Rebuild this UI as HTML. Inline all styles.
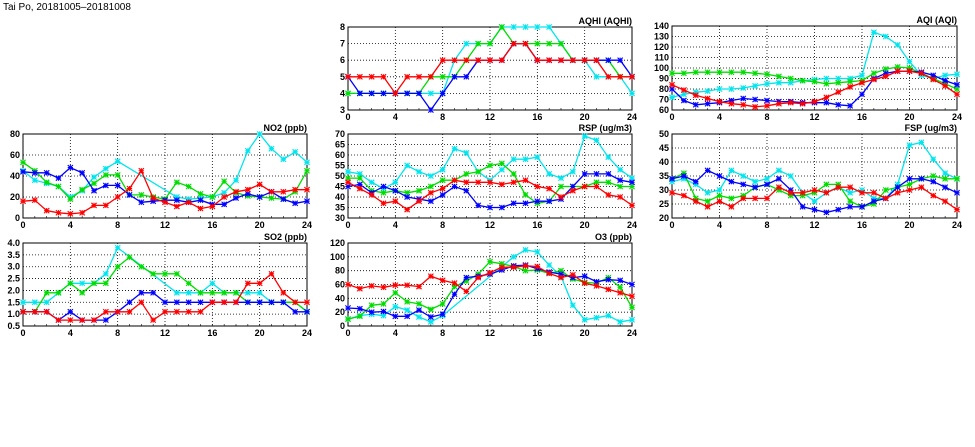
<!DOCTYPE html>
<html><head><meta charset="utf-8"><style>
html,body{margin:0;padding:0;background:#fff;}
svg{display:block;font-family:"Liberation Sans",sans-serif;}
</style></head><body>
<svg id="chart" width="975" height="447" viewBox="0 0 975 447">
<text x="3" y="10" font-size="10" fill="#000">Tai Po, 20181005–20181008</text>
</svg>
<script>
const hours = [0,1,2,3,4,5,6,7,8,9,10,11,12,13,14,15,16,17,18,19,20,21,22,23,24];
const seriesColors = ['#00e5ee','#00dd00','#0000ff','#ff0000'];
const seriesNames = ['day-cyan','day-green','day-blue','day-red'];
const xTicks = [0,4,8,12,16,20,24];

const aqhiCyan  = [4,4,4,4,4,4,4,4,4,6,7,7,7,8,8,8,8,8,7,6,6,5,5,5,4];
const aqhiGreen = [4,4,4,4,4,4,4,5,5,5,6,7,7,8,7,7,7,7,7,6,6,6,6,5,5];
const aqhiBlue  = [5,4,4,4,4,4,4,3,4,5,5,6,6,6,7,7,6,6,6,6,6,6,6,6,5];
const aqhiRed   = [5,5,5,5,4,5,5,5,6,6,6,6,6,6,7,7,6,6,6,6,6,6,5,5,5];
const aqhiTicks = [3,4,5,6,7,8];

const aqiCyan  = [72,75,77,78,80,80,81,83,85,86,86,88,89,90,90,90,93,134,130,122,106,93,90,93,94];
const aqiGreen = [95,95,96,96,96,96,96,95,94,92,90,88,87,85,86,87,88,95,99,101,100,95,90,85,80];
const aqiBlue  = [80,69,65,66,67,69,71,70,69,68,68,67,67,67,65,64,75,90,95,97,97,96,93,88,84];
const aqiRed   = [84,79,74,71,68,66,65,63,64,66,67,66,68,72,77,82,86,89,92,97,97,95,89,83,75];
const aqiTicks = [60,70,80,90,100,110,120,130,140];

const no2Cyan  = [45,36,33,30,20,26,39,47,54,null,null,null,null,20,18,19,20,24,36,64,80,66,56,63,53];
const no2Green = [53,45,34,30,18,27,33,41,41,22,22,20,18,34,30,23,20,35,24,21,20,19,18,25,45];
const no2Blue  = [44,43,43,38,48,43,26,31,31,22,15,16,17,17,15,17,13,13,19,23,20,25,18,14,16];
const no2Red   = [16,17,7,5,4,5,12,12,20,28,45,19,15,11,15,9,11,20,25,27,32,25,25,27,27];
const no2Ticks = [0,20,40,60,80];

const rspCyan  = [52,51,47,44,47,55,52,50,53,63,61,52,48,53,58,58,59,51,49,52,69,67,59,53,49];
const rspGreen = [49,49,43,42,43,42,43,45,48,48,51,52,55,56,51,41,37,38,45,45,45,47,47,45,45];
const rspBlue  = [45,46,42,45,43,40,39,38,41,45,43,36,35,35,37,37,38,38,39,45,51,51,51,48,47];
const rspRed   = [47,44,41,37,38,34,38,42,44,48,47,47,47,46,47,48,45,44,40,43,45,45,41,40,36];
const rspTicks = [30,35,40,45,50,55,60,65,70];

const fspCyan  = [33,34,32,29,30,37,35,33,34,37,35,29,26,29,31,29,30,27,27,32,46,47,41,36,34];
const fspGreen = [34,36,27,26,28,27,28,31,32,30,28,28,29,32,32,26,24,25,30,31,32,34,35,34,34];
const fspBlue  = [34,35,33,37,35,33,32,31,32,34,30,24,23,22,23,24,24,26,27,31,34,34,33,31,29];
const fspRed   = [29,28,26,24,26,24,27,27,27,31,29,29,30,29,31,31,29,29,27,29,30,31,28,26,23];
const fspTicks = [20,25,30,35,40,45,50];

const so2Cyan  = [1.5,1.5,1.5,1.9,2.3,2.3,2.3,2.7,3.8,null,null,null,null,1.9,1.9,1.9,2.3,1.9,1.9,1.9,1.9,1.5,1.5,1.5,1.1];
const so2Green = [1.1,1.1,1.9,1.9,2.3,1.9,2.3,2.3,3.0,3.4,3.0,2.7,2.7,2.7,2.3,1.9,1.9,1.9,1.9,1.5,1.5,1.5,1.5,1.5,1.1];
const so2Blue  = [1.1,1.1,1.1,0.75,1.1,0.75,0.75,0.75,1.1,1.5,1.9,1.9,1.5,1.5,1.5,1.5,1.5,1.5,1.5,1.5,1.5,1.5,1.5,1.1,1.1];
const so2Red   = [1.1,1.1,1.1,0.75,0.75,0.75,0.75,1.1,1.1,1.1,1.5,0.75,1.1,1.1,1.1,1.1,1.5,1.5,1.5,2.3,2.3,2.7,1.9,1.5,1.5];
const so2Ticks = [0.5,1.0,1.5,2.0,2.5,3.0,3.5,4.0];

const o3Cyan  = [10,15,17,15,28,23,13,6,15,null,null,null,null,null,100,110,107,88,72,30,9,12,15,6,9];
const o3Green = [10,14,30,32,48,35,32,24,32,57,65,75,93,90,86,80,81,76,80,68,63,62,70,56,27];
const o3Blue  = [26,25,20,21,14,14,23,13,17,46,70,72,75,81,87,88,83,78,75,70,72,64,67,66,60];
const o3Red   = [60,54,58,56,59,59,57,72,66,62,50,70,77,85,85,87,86,76,70,74,62,58,53,48,43];
const o3Ticks = [0,20,40,60,80,100,120];

const svg = document.getElementById('chart');
const NS = 'http://www.w3.org/2000/svg';
function mk(tag, attrs, parent){ const e=document.createElementNS(NS,tag); for(const k in attrs) e.setAttribute(k,attrs[k]); (parent||svg).appendChild(e); return e; }

function panel(id, title, box, ticks, dec, series){
  const [L,T,R,B] = box;
  const ymin = ticks[0], ymax = ticks[ticks.length-1];
  const xs = h => L + (h - 0) / 24 * (R - L);
  const ys = v => B - (v - ymin) / (ymax - ymin) * (B - T);
  const g = mk('g', {});
  
  
  xTicks.forEach(t => {
    if (t>0 && t<24) {
      const ln = mk('line',{x1:xs(t),x2:xs(t),y1:T,y2:B,stroke:'#000','stroke-width':0.8,'stroke-dasharray':'1,2'},g);
      
      
    }
    const tx = mk('text',{x:xs(t),y:B+10,'font-size':9,'font-weight':'bold','text-anchor':'middle'},g);
    tx.textContent = t;
    
    
  });
  for (let h=1; h<24; h++){ mk('line',{x1:xs(h),x2:xs(h),y1:B,y2:B-2,stroke:'#000','stroke-width':0.6},g); }
  ticks.forEach(t => {
    if (t>ymin && t<ymax) {
      const ln = mk('line',{x1:L,x2:R,y1:ys(t),y2:ys(t),stroke:'#000','stroke-width':0.8,'stroke-dasharray':'1,2'},g);
      
      
    }
    const tx = mk('text',{x:L-3,y:ys(t)+3,'font-size':9,'font-weight':'bold','text-anchor':'end'},g);
    tx.textContent = dec ? t.toFixed(1) : t;
    
    
  });
  const fr = mk('rect',{x:L,y:T,width:R-L,height:B-T,fill:'none',stroke:'#000','stroke-width':1},g);
  
  
  const tt = mk('text',{x:R,y:T-3,'font-size':9,'font-weight':'bold','text-anchor':'end'},g);
  tt.textContent = title;
  
  
  series.forEach((vals, si) => {
    const col = seriesColors[si];
    const pts = [];
    vals.forEach((v,i) => { if (v!==null) pts.push(xs(hours[i]).toFixed(1)+','+ys(v).toFixed(1)); });
    const pl = mk('polyline',{points:pts.join(' '),fill:'none',stroke:col,'stroke-width':1.3},g);
    
    
    vals.forEach((v,i) => {
      if (v===null) return;
      const cx = xs(hours[i]), cy = ys(v), s = 2.6;
      const m = mk('path',{d:`M${cx-s},${cy}H${cx+s}M${cx},${cy-s}V${cy+s}M${cx-s},${cy-s}L${cx+s},${cy+s}M${cx-s},${cy+s}L${cx+s},${cy-s}`,stroke:col,'stroke-width':1.1,fill:'none'},g);
      
      
    });
  });
}

panel('aqhi','AQHI (AQHI)',[348,27,632,110],aqhiTicks,false,[aqhiCyan,aqhiGreen,aqhiBlue,aqhiRed]);
panel('aqi','AQI (AQI)',[672,26,957,110],aqiTicks,false,[aqiCyan,aqiGreen,aqiBlue,aqiRed]);
panel('no2','NO2 (ppb)',[23,134,307,218],no2Ticks,false,[no2Cyan,no2Green,no2Blue,no2Red]);
panel('rsp','RSP (ug/m3)',[348,134,632,218],rspTicks,false,[rspCyan,rspGreen,rspBlue,rspRed]);
panel('fsp','FSP (ug/m3)',[672,134,957,218],fspTicks,false,[fspCyan,fspGreen,fspBlue,fspRed]);
panel('so2','SO2 (ppb)',[23,243,307,326],so2Ticks,true,[so2Cyan,so2Green,so2Blue,so2Red]);
panel('o3','O3 (ppb)',[348,243,632,326],o3Ticks,false,[o3Cyan,o3Green,o3Blue,o3Red]);
</script>
</body></html>
